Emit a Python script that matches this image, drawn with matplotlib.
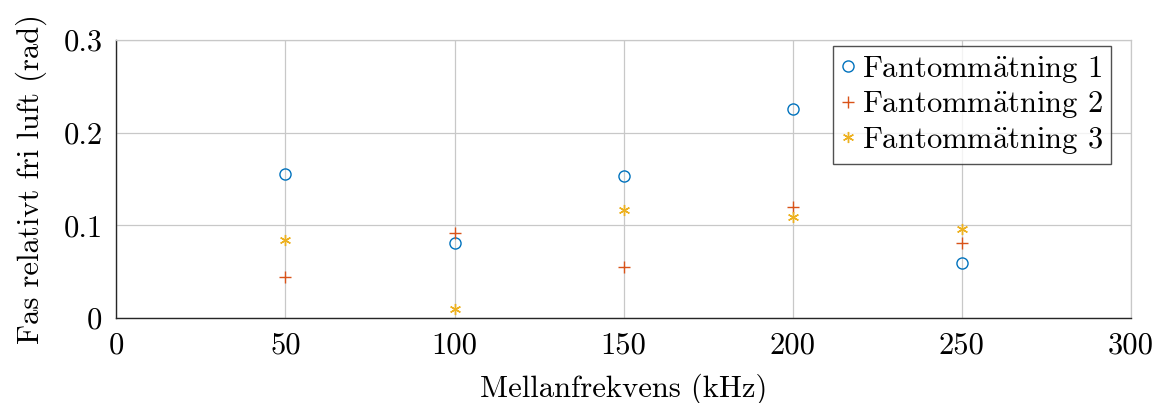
import matplotlib
matplotlib.use("Agg")
import matplotlib.pyplot as plt

plt.rcParams["font.family"] = ["cmr10", "DejaVu Serif"]
plt.rcParams["mathtext.fontset"] = "cm"
plt.rcParams["axes.unicode_minus"] = False
plt.rcParams["axes.formatter.use_mathtext"] = True

freq = [50, 100, 150, 200, 250]
fas_1 = [0.155, 0.081, 0.1535, 0.2255, 0.059]
fas_2 = [0.044, 0.092, 0.055, 0.120, 0.081]
fas_3 = [0.084, 0.010, 0.117, 0.109, 0.096]

xticks = [0, 50, 100, 150, 200, 250, 300]
yticks = [0, 0.1, 0.2, 0.3]
ytick_labels = ["0", "0.1", "0.2", "0.3"]

FS = 22
grid_c = "#c8c8c8"

fig = plt.figure(figsize=(11.64, 4.03), dpi=100)
ax = fig.add_axes([0.1, 0.2109, 0.8716, 0.6898])

ax.plot(freq, fas_1, ls="none", marker="o", ms=8, mfc="none", mec="#0072BD",
        mew=1.0, label="Fantomm$\\ddot{\\mathrm{a}}$tning 1", zorder=3)
ax.plot(freq, fas_2, ls="none", marker="+", ms=8, mec="#D95319",
        mew=1.0, label="Fantomm$\\ddot{\\mathrm{a}}$tning 2", zorder=3)
ax.plot(freq, fas_3, ls="none", marker=(6, 2, 0), ms=8, mec="#EDB120",
        mew=1.0, label="Fantomm$\\ddot{\\mathrm{a}}$tning 3", zorder=3)

ax.set_xlim(0, 300)
ax.set_ylim(0, 0.3)
ax.set_xticks(xticks)
ax.set_xticklabels([str(t) for t in xticks])
ax.set_yticks(yticks)
ax.set_yticklabels(ytick_labels)
ax.tick_params(labelsize=FS, length=0, pad=10)
ax.grid(True, color=grid_c, lw=0.9, zorder=0)
ax.set_axisbelow(True)
for side in ("left", "bottom"):
    ax.spines[side].set_color("#262626")
    ax.spines[side].set_linewidth(1.0)
for side in ("top", "right"):
    ax.spines[side].set_color(grid_c)
    ax.spines[side].set_linewidth(0.9)

ax.set_xlabel("Mellanfrekvens (kHz)", fontsize=FS, labelpad=10)
ax.set_ylabel("Fas relativt fri luft (rad)", fontsize=FS, labelpad=12)

leg = ax.legend(loc="upper right", fontsize=FS, frameon=True, fancybox=False,
                edgecolor="#262626", handlelength=0.5, handletextpad=0.2,
                borderpad=0.25, labelspacing=0.15, borderaxespad=0.2,
                bbox_to_anchor=(0.986, 1.0))
leg.get_frame().set_linewidth(1.0)

fig.savefig("out.png", dpi=100)
